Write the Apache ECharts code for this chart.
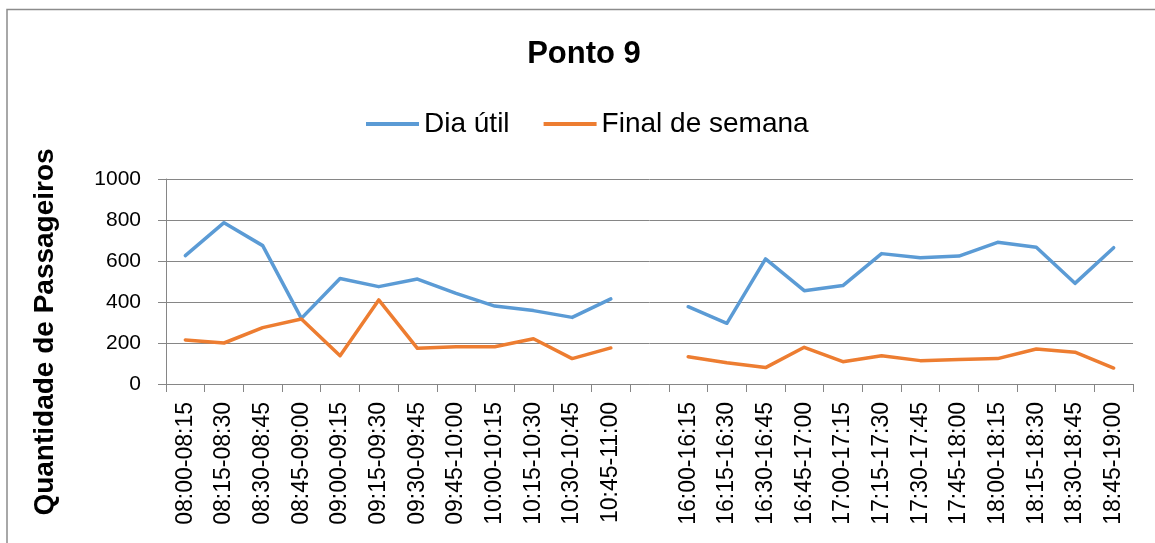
<!DOCTYPE html>
<html>
<head>
<meta charset="utf-8">
<script src="https://cdn.jsdelivr.net/npm/echarts@6/dist/echarts.min.js"></script>
<style>
html,body{margin:0;padding:0;background:#fff;}
#chart{width:1155px;height:543px;}
</style>
</head>
<body>
<div id="chart"></div>
<script>
const titleText = 'Ponto 9';
const yAxisTitle = 'Quantidade de Passageiros';
const seriesNames = ['Dia útil', 'Final de semana'];
const categories = [
  '08:00-08:15','08:15-08:30','08:30-08:45','08:45-09:00','09:00-09:15','09:15-09:30',
  '09:30-09:45','09:45-10:00','10:00-10:15','10:15-10:30','10:30-10:45','10:45-11:00',
  '',
  '16:00-16:15','16:15-16:30','16:30-16:45','16:45-17:00','17:00-17:15','17:15-17:30',
  '17:30-17:45','17:45-18:00','18:00-18:15','18:15-18:30','18:30-18:45','18:45-19:00'
];
const diaUtil = [626,787,675,320,515,475,512,442,380,358,325,415,null,377,296,610,455,480,636,616,624,691,667,491,665];
const finalSemana = [215,200,275,317,138,410,174,182,182,221,124,176,null,133,104,80,179,109,138,114,120,124,171,155,78];
const yTicks = {min:0, max:1000, interval:200};

const FONT = 'Liberation Sans, Arial, sans-serif';
const GRIDC = '#868686';
const chart = echarts.init(document.getElementById('chart'), null, {renderer:'canvas'});
chart.setOption({
  animation:false,
  backgroundColor:'#fff',
  color:['#5B9BD5','#ED7D31'],
  textStyle:{fontFamily:FONT},
  graphic:[
    {type:'rect', shape:{x:7, y:9.5, width:1300, height:700}, style:{fill:'none', stroke:'#8c8c8c', lineWidth:1.5}, silent:true},
    {type:'text', x:584, y:54, style:{text:titleText, font:'bold 31px Liberation Sans, Arial, sans-serif', fill:'#000', textAlign:'center', textVerticalAlign:'middle'}},
    {type:'text', x:45, y:332, rotation:Math.PI/2, style:{text:yAxisTitle, font:'bold 28px Liberation Sans, Arial, sans-serif', fill:'#000', textAlign:'center', textVerticalAlign:'middle'}}
  ],
  legend:{
    left:361, top:105,
    itemWidth:53, itemHeight:4, itemGap:34,
    icon:'rect',
    textStyle:{fontSize:28, color:'#000', fontFamily:FONT},
    data:seriesNames
  },
  grid:{left:166, right:22, top:179, bottom:159, containLabel:false},
  xAxis:{
    type:'category',
    data:categories,
    boundaryGap:true,
    axisLine:{show:true, lineStyle:{color:GRIDC, width:1}},
    axisTick:{show:true, length:8, alignWithLabel:false, interval:0, lineStyle:{color:GRIDC}},
    axisLabel:{interval:0, rotate:90, margin:18, fontSize:23, color:'#000', fontFamily:FONT},
    splitLine:{show:false}
  },
  yAxis:{
    type:'value',
    min:yTicks.min, max:yTicks.max, interval:yTicks.interval,
    axisLine:{show:true, lineStyle:{color:GRIDC, width:1}},
    axisTick:{show:true, length:8, lineStyle:{color:GRIDC}},
    axisLabel:{margin:25, fontSize:21, color:'#000', fontFamily:FONT, formatter:function(v){return String(v);}},
    splitLine:{show:true, lineStyle:{color:GRIDC, width:1}}
  },
  series:[
    {name:seriesNames[0], type:'line', data:diaUtil, symbol:'none', connectNulls:false,
     lineStyle:{width:3.5, color:'#5B9BD5', join:'round', cap:'round'}, itemStyle:{color:'#5B9BD5'}},
    {name:seriesNames[1], type:'line', data:finalSemana, symbol:'none', connectNulls:false,
     lineStyle:{width:3.5, color:'#ED7D31', join:'round', cap:'round'}, itemStyle:{color:'#ED7D31'}}
  ]
});
</script>
</body>
</html>
